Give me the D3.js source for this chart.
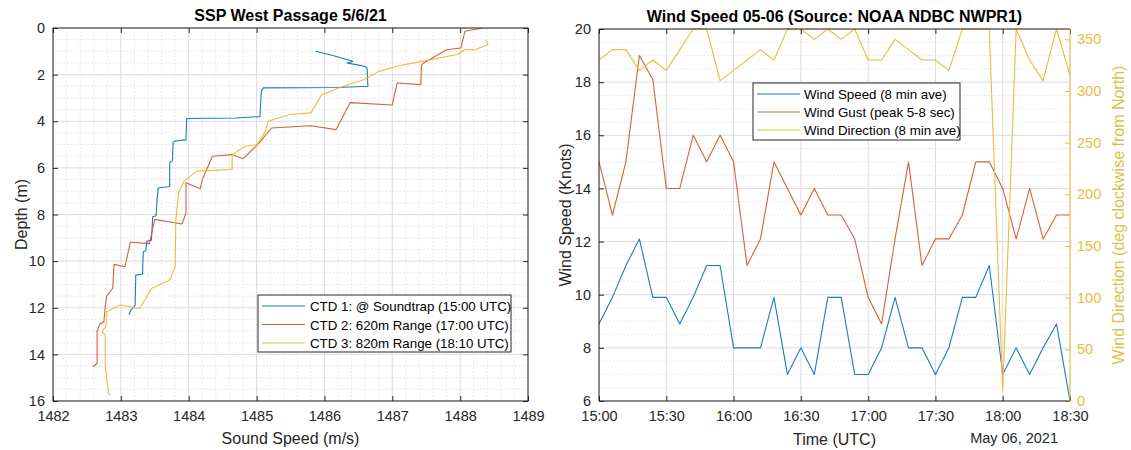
<!DOCTYPE html>
<html>
<head>
<meta charset="utf-8">
<script src="https://cdnjs.cloudflare.com/ajax/libs/d3/7.8.5/d3.min.js"></script>
<style>
  body { margin: 0; background: #fff; }
  svg { font-family: "Liberation Sans", Arial, sans-serif; }
  .axis text { font-size: 14.5px; fill: #262626; }
  .axis path { display: none; }
  .axis line { stroke: #262626; }
  .grid-major line { stroke: #dcdcdc; stroke-width: 1; }
  .grid-minor line { stroke: #e4e4e4; stroke-width: 1; stroke-dasharray: 1.5,2; }
  .title { font-size: 16px; font-weight: bold; fill: #000; }
  .label { font-size: 16px; fill: #262626; }
  .legend text { font-size: 13.3px; fill: #000; }
</style>
</head>
<body>
<div id="chart"></div>
<script>
// ---- DATA ----
// CTD casts: [sound speed (m/s), depth (m)]
var ctd1 = [[1485.87,1.0],[1486.15,1.2],[1486.37,1.38],[1486.42,1.44],[1486.33,1.5],[1486.45,1.56],[1486.6,1.65],[1486.63,1.75],[1486.64,2.5],[1486.2,2.55],[1485.1,2.57],[1485.07,2.7],[1485.05,3.8],[1484.7,3.86],[1483.97,3.88],[1483.96,4.8],[1483.8,4.85],[1483.77,4.9],[1483.76,5.7],[1483.72,5.78],[1483.72,6.8],[1483.55,6.86],[1483.53,7.5],[1483.52,8.05],[1483.47,8.1],[1483.45,9.1],[1483.38,9.15],[1483.37,9.55],[1483.33,9.6],[1483.32,10.55],[1483.22,10.6],[1483.21,11.9],[1483.15,12.1],[1483.12,12.3]];
var ctd2 = [[1488.33,0.0],[1488.07,0.14],[1488.01,0.86],[1487.8,0.93],[1487.46,1.5],[1487.43,1.6],[1487.42,2.43],[1487.07,2.36],[1487.0,3.3],[1486.38,3.2],[1486.17,4.36],[1485.8,4.19],[1485.22,4.29],[1485.04,4.93],[1484.8,5.61],[1484.64,5.43],[1484.35,5.5],[1484.2,6.5],[1484.17,6.9],[1483.96,6.64],[1483.96,7.93],[1483.9,8.41],[1483.5,8.21],[1483.42,9.25],[1483.14,9.19],[1483.06,10.24],[1482.9,10.14],[1482.88,11.17],[1482.79,11.5],[1482.77,11.93],[1482.75,12.6],[1482.69,12.7],[1482.65,13.0],[1482.65,14.38],[1482.59,14.53]];
var ctd3 = [[1488.38,0.5],[1488.41,0.71],[1488.22,0.93],[1488.07,0.92],[1487.96,1.14],[1487.43,1.43],[1487.07,1.64],[1486.8,1.86],[1486.59,2.21],[1486.28,2.5],[1485.96,2.86],[1485.8,3.64],[1485.49,3.71],[1485.17,4.0],[1485.12,4.5],[1485.01,5.0],[1484.83,5.07],[1484.64,5.43],[1484.64,6.07],[1484.12,6.14],[1483.93,6.57],[1483.85,7.07],[1483.81,8.24],[1483.8,10.24],[1483.72,10.81],[1483.45,11.17],[1483.28,12.03],[1482.99,11.88],[1482.79,12.17],[1482.78,12.81],[1482.72,13.03],[1482.77,13.17],[1482.77,14.53],[1482.82,15.67],[1482.84,15.74]];
var ctdNames = ["CTD 1: @ Soundtrap (15:00 UTC)", "CTD 2: 620m Range (17:00 UTC)", "CTD 3: 820m Range (18:10 UTC)"];

// NWPR1 observations, 6-minute steps on 2021-05-06 (UTC)
var times = ["15:00","15:06","15:12","15:18","15:24","15:30","15:36","15:42","15:48","15:54",
             "16:00","16:06","16:12","16:18","16:24","16:30","16:36","16:42","16:48","16:54",
             "17:00","17:06","17:12","17:18","17:24","17:30","17:36","17:42","17:48","17:54",
             "18:00","18:06","18:12","18:18","18:24","18:30"];
var windSpeed = [8.9,9.9,11.1,12.1,9.9,9.9,8.9,9.9,11.1,11.1,
                 8.0,8.0,8.0,9.9,7.0,8.0,7.0,9.9,9.9,7.0,
                 7.0,8.0,9.9,8.0,8.0,7.0,8.0,9.9,9.9,11.1,
                 7.0,8.0,7.0,8.0,8.9,6.0];
var windGust = [15.0,13.0,15.0,19.0,18.1,14.0,14.0,16.0,15.0,16.0,
                15.0,11.1,12.1,15.0,14.0,13.0,14.0,13.0,13.0,12.1,
                9.9,8.9,12.1,15.0,11.1,12.1,12.1,13.0,15.0,15.0,
                14.0,12.1,14.0,12.1,13.0,13.0];
var windDir = [330,340,340,320,330,320,340,360,360,310,
               320,330,340,330,360,360,350,360,350,360,
               330,330,350,340,330,330,320,360,360,360,
               10,360,330,310,360,315];
var windNames = ["Wind Speed (8 min ave)", "Wind Gust (peak 5-8 sec)", "Wind Direction (8 min ave)"];

var colors = ["#1a7dbf", "#d9603a", "#ecbb3a"];

var svg = d3.select("#chart").append("svg")
    .attr("width", 1131).attr("height", 450);

// ================= LEFT: SSP =================
var L = {left: 53, right: 528, top: 28, bottom: 401};

var xSpeed = d3.scaleLinear().domain([1482, 1489]).range([L.left, L.right]);
var yDepth = d3.scaleLinear().domain([0, 16]).range([L.top, L.bottom]);

var gl = svg.append("g");

// minor grid
gl.append("g").attr("class", "grid-minor")
  .selectAll("line").data(d3.range(1482, 1489.001, 0.2).filter(function(v){ return Math.abs(v - Math.round(v)) > 0.01; }))
  .enter().append("line")
  .attr("x1", function(d){ return xSpeed(d); }).attr("x2", function(d){ return xSpeed(d); })
  .attr("y1", L.top).attr("y2", L.bottom);
gl.append("g").attr("class", "grid-minor")
  .selectAll("line").data(d3.range(0, 16.001, 0.5).filter(function(v){ return v % 2 !== 0; }))
  .enter().append("line")
  .attr("y1", function(d){ return yDepth(d); }).attr("y2", function(d){ return yDepth(d); })
  .attr("x1", L.left).attr("x2", L.right);

// major grid
gl.append("g").attr("class", "grid-major")
  .selectAll("line").data(xSpeed.ticks(7))
  .enter().append("line")
  .attr("x1", function(d){ return xSpeed(d); }).attr("x2", function(d){ return xSpeed(d); })
  .attr("y1", L.top).attr("y2", L.bottom);
gl.append("g").attr("class", "grid-major")
  .selectAll("line").data(d3.range(0, 17, 2))
  .enter().append("line")
  .attr("y1", function(d){ return yDepth(d); }).attr("y2", function(d){ return yDepth(d); })
  .attr("x1", L.left).attr("x2", L.right);

// profiles
var ssLine = d3.line()
  .x(function(d){ return xSpeed(d[0]); })
  .y(function(d){ return yDepth(d[1]); });

[ctd1, ctd2, ctd3].forEach(function(cast, i){
  gl.append("path")
    .datum(cast)
    .attr("d", ssLine)
    .attr("fill", "none")
    .attr("stroke", colors[i])
    .attr("stroke-width", 1.1)
    .attr("stroke-linejoin", "round");
});

// axes
gl.append("g").attr("class", "axis")
  .attr("transform", "translate(0," + L.bottom + ")")
  .call(d3.axisBottom(xSpeed).ticks(7).tickFormat(d3.format("d")).tickSizeInner(-5).tickSizeOuter(0).tickPadding(10));
gl.append("g").attr("class", "axis")
  .attr("transform", "translate(0," + L.top + ")")
  .call(d3.axisTop(xSpeed).ticks(7).tickFormat("").tickSizeInner(-5).tickSizeOuter(0));
gl.append("g").attr("class", "axis")
  .attr("transform", "translate(" + L.left + ",0)")
  .call(d3.axisLeft(yDepth).tickValues(d3.range(0, 17, 2)).tickSizeInner(-5).tickSizeOuter(0).tickPadding(8));
gl.append("g").attr("class", "axis")
  .attr("transform", "translate(" + L.right + ",0)")
  .call(d3.axisRight(yDepth).tickValues(d3.range(0, 17, 2)).tickFormat("").tickSizeInner(-5).tickSizeOuter(0));

gl.append("rect")
  .attr("x", L.left).attr("y", L.top)
  .attr("width", L.right - L.left).attr("height", L.bottom - L.top)
  .attr("fill", "none").attr("stroke", "#262626");

gl.append("text").attr("class", "title")
  .attr("x", (L.left + L.right) / 2).attr("y", 21)
  .attr("text-anchor", "middle")
  .text("SSP West Passage 5/6/21");
gl.append("text").attr("class", "label")
  .attr("x", (L.left + L.right) / 2).attr("y", 444)
  .attr("text-anchor", "middle")
  .text("Sound Speed (m/s)");
gl.append("text").attr("class", "label")
  .attr("transform", "translate(27," + ((L.top + L.bottom) / 2) + ") rotate(-90)")
  .attr("text-anchor", "middle")
  .text("Depth (m)");

// legend
var lgL = gl.append("g").attr("class", "legend");
lgL.append("rect")
  .attr("x", 258).attr("y", 295).attr("width", 253).attr("height", 57)
  .attr("fill", "#fff").attr("stroke", "#262626");
ctdNames.forEach(function(name, i){
  var yy = 306 + i * 18.5;
  lgL.append("line")
    .attr("x1", 262).attr("x2", 305).attr("y1", yy).attr("y2", yy)
    .attr("stroke", colors[i]).attr("stroke-width", 1.1);
  lgL.append("text")
    .attr("x", 310).attr("y", yy + 5)
    .text(name);
});

// ================= RIGHT: WIND =================
var R = {left: 599, right: 1070, top: 29, bottom: 401};

var parseTime = d3.utcParse("%Y-%m-%d %H:%M");
var dates = times.map(function(t){ return parseTime("2021-05-06 " + t); });

var xTime = d3.scaleUtc()
  .domain([parseTime("2021-05-06 15:00"), parseTime("2021-05-06 18:30")])
  .range([R.left, R.right]);
var yKnots = d3.scaleLinear().domain([6, 20]).range([R.bottom, R.top]);
var yDeg = d3.scaleLinear().domain([0, 360]).range([R.bottom, R.top]);

var gr = svg.append("g");

gr.append("g").attr("class", "grid-minor")
  .selectAll("line").data(d3.range(6, 20.001, 0.5).filter(function(v){ return v % 2 !== 0; }))
  .enter().append("line")
  .attr("y1", function(d){ return yKnots(d); }).attr("y2", function(d){ return yKnots(d); })
  .attr("x1", R.left).attr("x2", R.right);

var timeTicks = xTime.ticks(d3.utcMinute.every(30));
gr.append("g").attr("class", "grid-major")
  .selectAll("line").data(timeTicks)
  .enter().append("line")
  .attr("x1", function(d){ return xTime(d); }).attr("x2", function(d){ return xTime(d); })
  .attr("y1", R.top).attr("y2", R.bottom);
gr.append("g").attr("class", "grid-major")
  .selectAll("line").data(d3.range(6, 21, 2))
  .enter().append("line")
  .attr("y1", function(d){ return yKnots(d); }).attr("y2", function(d){ return yKnots(d); })
  .attr("x1", R.left).attr("x2", R.right);

gr.append("clipPath").attr("id", "clipR").append("rect")
  .attr("x", R.left).attr("y", R.top - 1)
  .attr("width", R.right - R.left).attr("height", R.bottom - R.top + 2);

var series = [
  {values: windSpeed, y: yKnots},
  {values: windGust, y: yKnots},
  {values: windDir, y: yDeg}
];
series.forEach(function(s, i){
  var line = d3.line()
    .x(function(d, j){ return xTime(dates[j]); })
    .y(function(d){ return s.y(d); });
  gr.append("path")
    .datum(s.values)
    .attr("d", line)
    .attr("clip-path", "url(#clipR)")
    .attr("fill", "none")
    .attr("stroke", colors[i])
    .attr("stroke-width", 1.1)
    .attr("stroke-linejoin", "round");
});

gr.append("g").attr("class", "axis")
  .attr("transform", "translate(0," + R.bottom + ")")
  .call(d3.axisBottom(xTime).tickValues(timeTicks).tickFormat(d3.utcFormat("%H:%M")).tickSizeInner(-5).tickSizeOuter(0).tickPadding(10));
gr.append("g").attr("class", "axis")
  .attr("transform", "translate(0," + R.top + ")")
  .call(d3.axisTop(xTime).tickValues(timeTicks).tickFormat("").tickSizeInner(-5).tickSizeOuter(0));
gr.append("g").attr("class", "axis")
  .attr("transform", "translate(" + R.left + ",0)")
  .call(d3.axisLeft(yKnots).tickValues(d3.range(6, 21, 2)).tickSizeInner(-5).tickSizeOuter(0).tickPadding(8));

var yr = gr.append("g").attr("class", "axis axis-right")
  .attr("transform", "translate(" + R.right + ",0)")
  .call(d3.axisRight(yDeg).tickValues(d3.range(0, 351, 50)).tickSizeInner(-5).tickSizeOuter(0).tickPadding(7));
yr.selectAll("text").style("fill", "#e3bd45");
yr.selectAll("line").style("stroke", "#ecbb3a");

// box: black on three sides, yellow on the right
gr.append("path")
  .attr("d", d3.line()([[R.right, R.top], [R.left, R.top], [R.left, R.bottom], [R.right, R.bottom]]))
  .attr("fill", "none").attr("stroke", "#262626");
gr.append("line")
  .attr("x1", R.right).attr("x2", R.right).attr("y1", R.top).attr("y2", R.bottom)
  .attr("stroke", "#ecbb3a");

gr.append("text").attr("class", "title")
  .attr("x", (R.left + R.right) / 2).attr("y", 22)
  .attr("text-anchor", "middle")
  .text("Wind Speed 05-06 (Source: NOAA NDBC NWPR1)");
gr.append("text").attr("class", "label")
  .attr("x", (R.left + R.right) / 2).attr("y", 445)
  .attr("text-anchor", "middle")
  .text("Time (UTC)");
gr.append("text")
  .attr("x", 1058).attr("y", 443)
  .attr("text-anchor", "end")
  .style("font-size", "14.5px").style("fill", "#262626")
  .text("May 06, 2021");
gr.append("text").attr("class", "label")
  .attr("transform", "translate(571," + ((R.top + R.bottom) / 2) + ") rotate(-90)")
  .attr("text-anchor", "middle")
  .text("Wind Speed (Knots)");
gr.append("text").attr("class", "label")
  .attr("transform", "translate(1124," + ((R.top + R.bottom) / 2) + ") rotate(-90)")
  .attr("text-anchor", "middle")
  .style("fill", "#e3bd45")
  .text("Wind Direction (deg clockwise from North)");

var lgR = gr.append("g").attr("class", "legend");
lgR.append("rect")
  .attr("x", 753).attr("y", 83).attr("width", 207).attr("height", 57)
  .attr("fill", "#fff").attr("stroke", "#262626");
windNames.forEach(function(name, i){
  var yy = 94 + i * 18;
  lgR.append("line")
    .attr("x1", 757).attr("x2", 800).attr("y1", yy).attr("y2", yy)
    .attr("stroke", colors[i]).attr("stroke-width", 1.1);
  lgR.append("text")
    .attr("x", 804).attr("y", yy + 5)
    .text(name);
});
</script>
</body>
</html>
